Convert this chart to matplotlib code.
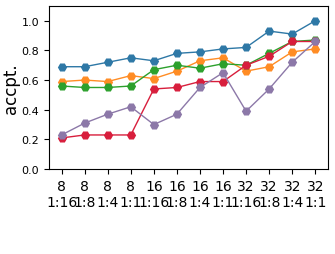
import numpy as np
import matplotlib
matplotlib.use('Agg')
import matplotlib.pyplot as plt

# x categories: bits / ratio
labels = ['8\n1:16', '8\n1:8', '8\n1:4', '8\n1:1',
          '16\n1:16', '16\n1:8', '16\n1:4', '16\n1:1',
          '32\n1:16', '32\n1:8', '32\n1:4', '32\n1:1']

blue = [0.69, 0.69, 0.72, 0.75, 0.73, 0.78, 0.79, 0.81, 0.82, 0.93, 0.91, 1.0]
orange = [0.59, 0.60, 0.59, 0.63, 0.61, 0.66, 0.73, 0.75, 0.66, 0.69, 0.79, 0.81]
green = [0.56, 0.55, 0.55, 0.56, 0.67, 0.70, 0.68, 0.71, 0.70, 0.78, 0.86, 0.87]
red = [0.21, 0.23, 0.23, 0.23, 0.54, 0.55, 0.59, 0.59, 0.70, 0.76, 0.86, 0.86]
purple = [0.23, 0.31, 0.37, 0.42, 0.30, 0.37, 0.55, 0.65, 0.39, 0.54, 0.72, 0.86]

series = [(blue, '#2e78a6'), (orange, '#ff8c24'), (green, '#2ca02c'),
          (red, '#d81e3c'), (purple, '#8c78a8')]

fig = plt.figure(figsize=(3.35, 2.55), dpi=100)
ax = fig.add_axes([0.146, 0.333, 0.833, 0.64])
x = np.arange(len(labels))
for vals, col in series:
    ax.plot(x, vals, color=col, marker='H', markersize=5.5, linewidth=1.0)

ax.set_ylim(0, 1.1)
ax.set_yticks([0.0, 0.2, 0.4, 0.6, 0.8, 1.0])
ax.tick_params(axis='y', labelsize=8)
ax.set_xticks(x)
ax.set_xticklabels(labels, fontsize=10)
ax.set_ylabel('accpt.', fontsize=12, labelpad=1)

fig.savefig('out.png', dpi=100)
